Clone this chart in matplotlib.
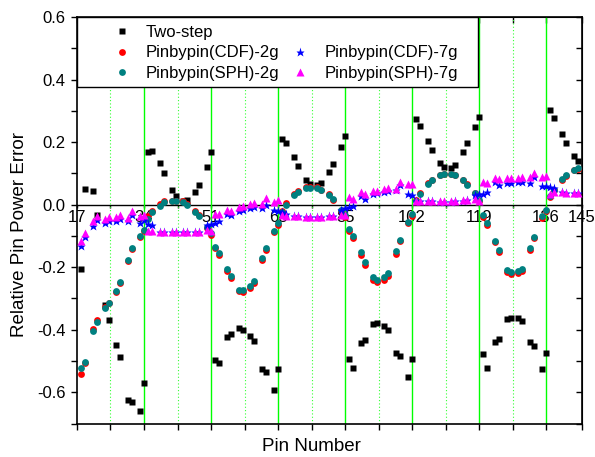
import matplotlib
matplotlib.use('Agg')
import matplotlib.pyplot as plt
from matplotlib.lines import Line2D
from matplotlib.patches import Rectangle

plt.rcParams['font.family'] = ['Liberation Sans', 'DejaVu Sans']

# pin numbers (rows of 17, guide tube positions skipped)
pins = [18, 19, 21, 22, 24, 25, 27, 28, 30, 31, 33, 34,
        35, 36, 38, 39, 41, 42, 44, 45, 47, 48, 50, 51,
        52, 53, 55, 56, 58, 59, 61, 62, 64, 65, 67, 68,
        69, 70, 72, 73, 75, 76, 78, 79, 81, 82, 84, 85,
        86, 87, 89, 90, 92, 93, 95, 96, 98, 99, 101, 102,
        103, 104, 106, 107, 109, 110, 112, 113, 115, 116, 118, 119,
        120, 121, 123, 124, 126, 127, 129, 130, 132, 133, 135, 136,
        137, 138, 140, 141, 143, 144]

two_step = [-0.205, 0.050, 0.043, -0.032, -0.320, -0.369, -0.449, -0.488, -0.626, -0.632, -0.661, -0.569,
            0.168, 0.173, 0.132, 0.100, 0.047, 0.029, 0.013, 0.015, 0.041, 0.064, 0.119, 0.169,
            -0.496, -0.508, -0.422, -0.414, -0.396, -0.401, -0.421, -0.437, -0.525, -0.536, -0.594, -0.527,
            0.211, 0.197, 0.153, 0.125, 0.080, 0.066, 0.062, 0.069, 0.103, 0.129, 0.183, 0.219,
            -0.493, -0.524, -0.442, -0.432, -0.383, -0.380, -0.388, -0.400, -0.474, -0.484, -0.552, -0.493,
            0.274, 0.253, 0.205, 0.176, 0.133, 0.120, 0.117, 0.128, 0.167, 0.196, 0.248, 0.279,
            -0.477, -0.521, -0.440, -0.429, -0.367, -0.362, -0.363, -0.371, -0.440, -0.451, -0.526, -0.475,
            0.304, 0.277, 0.226, 0.196, 0.155, 0.139]

cdf_2g = [-0.542, -0.508, -0.397, -0.369, -0.327, -0.315, -0.279, -0.251, -0.180, -0.141, -0.103, -0.085,
          -0.038, -0.020, 0.003, 0.012, 0.013, 0.012, 0.010, 0.002, -0.019, -0.033, -0.076, -0.097,
          -0.140, -0.160, -0.213, -0.236, -0.277, -0.280, -0.266, -0.250, -0.178, -0.146, -0.088, -0.066,
          -0.020, 0.005, 0.033, 0.043, 0.055, 0.055, 0.055, 0.048, 0.033, 0.016, -0.021, -0.040,
          -0.085, -0.108, -0.160, -0.192, -0.240, -0.249, -0.242, -0.227, -0.157, -0.117, -0.060, -0.037,
          0.016, 0.038, 0.068, 0.080, 0.094, 0.097, 0.097, 0.094, 0.078, 0.066, 0.038, 0.010,
          -0.040, -0.066, -0.120, -0.152, -0.215, -0.222, -0.220, -0.212, -0.145, -0.108, -0.043, -0.022,
          0.025, 0.046, 0.080, 0.093, 0.111, 0.115]

sph_2g = [-0.522, -0.504, -0.405, -0.375, -0.330, -0.314, -0.276, -0.249, -0.176, -0.139, -0.099, -0.080,
          -0.045, -0.025, -0.003, 0.007, 0.011, 0.011, 0.009, 0.000, -0.023, -0.037, -0.072, -0.092,
          -0.136, -0.154, -0.206, -0.229, -0.272, -0.274, -0.261, -0.245, -0.172, -0.140, -0.083, -0.059,
          -0.023, 0.000, 0.030, 0.039, 0.053, 0.053, 0.053, 0.046, 0.032, 0.018, -0.016, -0.032,
          -0.078, -0.099, -0.152, -0.183, -0.233, -0.241, -0.233, -0.220, -0.149, -0.112, -0.056, -0.030,
          0.012, 0.034, 0.067, 0.079, 0.094, 0.097, 0.097, 0.094, 0.078, 0.064, 0.036, 0.014,
          -0.034, -0.059, -0.115, -0.146, -0.208, -0.215, -0.213, -0.205, -0.139, -0.102, -0.038, -0.016,
          0.027, 0.048, 0.081, 0.094, 0.112, 0.116]

cdf_7g = [-0.133, -0.105, -0.067, -0.050, -0.059, -0.051, -0.051, -0.045, -0.053, -0.032, -0.059, -0.050,
          -0.062, -0.065, -0.086, -0.086, -0.087, -0.087, -0.087, -0.087, -0.086, -0.086, -0.066, -0.062,
          -0.059, -0.053, -0.030, -0.034, -0.020, -0.017, -0.012, -0.009, -0.012, -0.002, -0.017, -0.020,
          -0.025, -0.030, -0.037, -0.038, -0.040, -0.040, -0.040, -0.039, -0.037, -0.036, -0.016, -0.011,
          -0.009, -0.003, 0.026, 0.017, 0.035, 0.036, 0.040, 0.043, 0.046, 0.062, 0.034, 0.032,
          0.010, 0.010, 0.011, 0.011, 0.009, 0.009, 0.009, 0.010, 0.013, 0.014, 0.030, 0.033,
          0.034, 0.039, 0.073, 0.063, 0.070, 0.070, 0.073, 0.073, 0.070, 0.087, 0.061, 0.058,
          0.055, 0.052, 0.039, 0.038, 0.038, 0.038]

sph_7g = [-0.117, -0.090, -0.051, -0.037, -0.045, -0.041, -0.041, -0.032, -0.043, -0.019, -0.037, -0.032,
          -0.083, -0.083, -0.086, -0.086, -0.087, -0.087, -0.087, -0.087, -0.086, -0.086, -0.080, -0.083,
          -0.030, -0.030, -0.016, -0.020, -0.007, -0.005, 0.002, 0.005, 0.002, 0.021, 0.009, 0.016,
          -0.032, -0.035, -0.037, -0.037, -0.040, -0.040, -0.040, -0.040, -0.036, -0.036, -0.034, -0.033,
          0.023, 0.019, 0.040, 0.035, 0.045, 0.045, 0.050, 0.053, 0.050, 0.072, 0.066, 0.066,
          0.013, 0.013, 0.013, 0.013, 0.011, 0.011, 0.011, 0.013, 0.016, 0.016, 0.019, 0.013,
          0.072, 0.070, 0.085, 0.082, 0.085, 0.085, 0.085, 0.087, 0.087, 0.100, 0.089, 0.092,
          0.034, 0.039, 0.040, 0.038, 0.036, 0.036]

row_ticks = [17, 34, 51, 68, 85, 102, 119, 136, 145]
mid_ticks = [25.5, 42.5, 59.5, 76.5, 93.5, 110.5, 127.5]
y_major = [-0.6, -0.4, -0.2, 0.0, 0.2, 0.4, 0.6]
y_minor = [-0.7, -0.5, -0.3, -0.1, 0.1, 0.3, 0.5]

fig = plt.figure(figsize=(5.95, 4.57), dpi=100)
ax = fig.add_axes([0.1294, 0.0733, 0.848, 0.8895])

# grid lines at row boundaries
for xv in row_ticks[1:-1]:
    ax.axvline(xv, color='#00ff00', lw=1.0, zorder=1)
for xv in mid_ticks:
    ax.axvline(xv, color='#33ff33', lw=0.8, ls=(0, (1, 2)), zorder=1)

ax.plot(pins, two_step, 's', color='black', ms=4.2, mec='none', label='Two-step', zorder=3)
ax.plot(pins, cdf_2g, 'o', color='#ff0000', ms=4.9, mec='none', label='Pinbypin(CDF)-2g', zorder=3)
ax.plot(pins, sph_2g, 'o', color='#008080', ms=4.9, mec='none', label='Pinbypin(SPH)-2g', zorder=3)
ax.plot(pins, cdf_7g, '*', color='#0000ff', ms=6.5, mec='none', label='Pinbypin(CDF)-7g', zorder=3)
ax.plot(pins, sph_7g, '^', color='#ff00ff', ms=5.3, mec='none', label='Pinbypin(SPH)-7g', zorder=3)

ax.set_xlim(17, 145)
ax.set_ylim(-0.7, 0.6)

ax.set_xticks(row_ticks)
ax.set_xticks(mid_ticks, minor=True)
ax.set_yticks(y_major, labels=['%.1f' % v for v in y_major])
ax.set_yticks(y_minor, minor=True)
ax.tick_params(axis='x', which='both', direction='out', length=4.3, width=1, labelbottom=False, top=False)
ax.tick_params(axis='y', which='both', direction='out', length=4.3, width=1, labelsize=12, pad=4, right=False)
for s in ax.spines.values():
    s.set_linewidth(1.2)

# zero line with the row labels
zero = ax.secondary_xaxis(0, transform=ax.transData)
zero.set_xticks(row_ticks, labels=[str(v) for v in row_ticks])
zero.set_xticks(mid_ticks, minor=True)
zero.tick_params(which='both', direction='out', length=2.5, width=1, labelsize=12, pad=1.5)
zero.spines['bottom'].set_linewidth(1.0)

right = ax.secondary_yaxis('right')
right.set_yticks(y_major)
right.set_yticks(y_minor, minor=True)
right.tick_params(which='both', direction='in', length=4.3, width=1, labelright=False)

top = ax.secondary_xaxis('top')
top.set_xticks(row_ticks)
top.set_xticks(mid_ticks, minor=True)
top.tick_params(which='both', direction='in', length=4.3, width=1, labeltop=False)

ax.set_xlabel('Pin Number', fontsize=13.5)
ax.xaxis.set_label_coords(0.464, -0.036)
ax.set_ylabel('Relative Pin Power Error', fontsize=13.5)
ax.yaxis.set_label_coords(-0.097, 0.466)

# legend box
ax.add_patch(Rectangle((0, 0.828), 0.794, 0.172, transform=ax.transAxes,
                       facecolor='white', edgecolor='black', lw=1.0, zorder=2.5))
h, l = ax.get_legend_handles_labels()
blank = Line2D([], [], linestyle='none', marker='none')
handles = [h[0], h[1], h[2], blank, h[3], h[4]]
labels = [l[0], l[1], l[2], '', l[3], l[4]]
ax.legend(handles, labels, loc='upper left', bbox_to_anchor=(0.057, 1.0), ncol=2,
          frameon=False, fontsize=12, handlelength=1.0, handletextpad=0.96,
          columnspacing=0.74, labelspacing=0.35, borderpad=0.45, borderaxespad=0)

fig.savefig('out.png', dpi=100)
